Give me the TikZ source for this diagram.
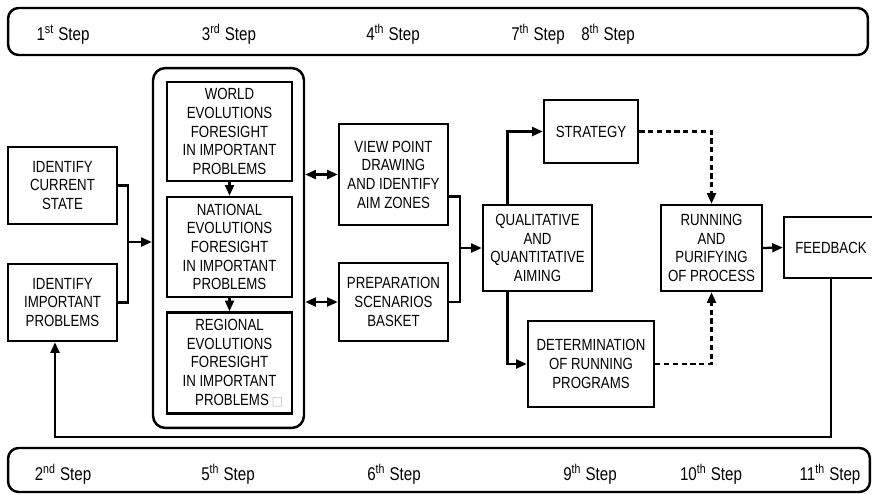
\documentclass[tikz,border=0pt]{standalone}
\usepackage{fontspec}
\setmainfont{Liberation Sans}[FakeStretch=0.82]
\newfontfamily\symfont{DejaVu Sans}
\usetikzlibrary{calc,positioning,arrows.meta}
\tikzstyle{box}   = [rectangle, draw, line width=1.4pt, align=center,
                     inner sep=1pt, font=\fontsize{9.2}{10.6}\selectfont]
\tikzstyle{group} = [rectangle, draw, line width=1.4pt, rounded corners=7pt]
\tikzstyle{band}  = [rectangle, draw, line width=1.4pt, rounded corners=6pt]
\tikzstyle{lbl}   = [anchor=base, font=\fontsize{10.5}{12}\selectfont]
\tikzstyle{line}  = [draw, line width=1.3pt]
\tikzstyle{ptr}   = [line, -{Triangle[length=6pt,width=5pt]}]
\tikzstyle{biptr} = [line, {Triangle[length=6pt,width=5pt]}-{Triangle[length=6pt,width=5pt]}]
\tikzstyle{dptr}  = [line, dash pattern=on 3pt off 2pt, -{Triangle[length=6pt,width=5pt]}]
\newcommand{\stp}[2]{#1\textsuperscript{#2} Step}

\begin{document}
\begin{tikzpicture}[x=0.02cm, y=-0.02cm]
	\useasboundingbox (0,0) rectangle (872,494);
	% step bands
	\node[band, minimum width=17.2cm, minimum height=0.94cm] (topband) at (438,31.5) {};
	\node[band, minimum width=17.24cm, minimum height=0.88cm] (botband) at (439,470) {};
	\node[lbl] (s1) at (63,40) {\stp{1}{st}};
	\node[lbl] (s3) at (229,40) {\stp{3}{rd}};
	\node[lbl] (s4) at (393,40) {\stp{4}{th}};
	\node[lbl] (s7) at (538,40) {\stp{7}{th}};
	\node[lbl] (s8) at (608,40) {\stp{8}{th}};
	\node[lbl] (s2) at (63,480) {\stp{2}{nd}};
	\node[lbl] (s5) at (228,480) {\stp{5}{th}};
	\node[lbl] (s6) at (394,480) {\stp{6}{th}};
	\node[lbl] (s9) at (590,480) {\stp{9}{th}};
	\node[lbl] (s10) at (711,480) {\stp{10}{th}};
	\node[lbl] (s11) at (830,480) {\stp{11}{th}};

	% boxes
	\node[box, minimum width=2.18cm, minimum height=1.54cm] (cur) at (62.5,185.5) {IDENTIFY\\CURRENT\\STATE};
	\node[box, minimum width=2.18cm, minimum height=1.54cm] (imp) at (62.5,302.5) {IDENTIFY\\IMPORTANT\\PROBLEMS};
	\node[group, minimum width=3.02cm, minimum height=7.2cm] (grp) at (228.5,248) {};
	\node[box, minimum width=2.5cm, minimum height=1.98cm] (world) at (229.5,131.5) {WORLD\\EVOLUTIONS\\FORESIGHT\\IN IMPORTANT\\PROBLEMS};
	\node[box, minimum width=2.5cm, minimum height=2.0cm] (nat) at (229.5,247) {NATIONAL\\EVOLUTIONS\\FORESIGHT\\IN IMPORTANT\\PROBLEMS};
	\node[box, minimum width=2.5cm, minimum height=2.02cm] (reg) at (229.5,363) {REGIONAL\\EVOLUTIONS\\FORESIGHT\\IN IMPORTANT\\\hspace*{1.2em}PROBLEMS\,{\symfont\fontsize{7}{8}\selectfont\color{gray!50}□}};
	\node[box, minimum width=2.18cm, minimum height=2.02cm] (view) at (393.5,174.5) {VIEW POINT\\DRAWING\\AND IDENTIFY\\AIM ZONES};
	\node[box, minimum width=2.18cm, minimum height=1.56cm] (prep) at (393.5,302) {PREPARATION\\SCENARIOS\\BASKET};
	\node[box, minimum width=2.18cm, minimum height=1.72cm] (qual) at (537.5,248) {QUALITATIVE\\AND\\QUANTITATIVE\\AIMING};
	\node[box, minimum width=1.88cm, minimum height=1.26cm] (strat) at (591,131.5) {STRATEGY};
	\node[box, minimum width=2.52cm, minimum height=1.72cm] (det) at (591,364) {DETERMINATION\\OF RUNNING\\PROGRAMS};
	\node[box, minimum width=2.02cm, minimum height=1.72cm] (run) at (711.5,248) {RUNNING\\AND\\PURIFYING\\OF PROCESS};
	\node[box, minimum width=1.88cm, minimum height=1.22cm] (fb) at (831,247.5) {FEEDBACK};

	% connectors
	\coordinate (j1) at (128,242);
	\draw[line] (cur.east) -| (j1) |- (imp.east);
	\draw[ptr] (j1) -- (j1 -| grp.west);
	\draw[ptr] (world) -- (nat);
	\draw[ptr] (nat) -- (reg);
	\draw[biptr] (view.west -| grp.east) -- (view.west);
	\draw[biptr] (prep.west -| grp.east) -- (prep.west);
	\coordinate (j2) at (460,248);
	\draw[line] ($(view.east)+(0,22)$) -| (j2) |- (prep.east);
	\draw[ptr] (j2) -- (qual.west);
	\draw[ptr] ($(qual.north)+(-30,0)$) |- (strat.west);
	\draw[ptr] ($(qual.south)+(-30,0)$) |- (det.west);
	\draw[dptr] (strat.east) -| (run.north);
	\draw[dptr] (det.east) -| (run.south);
	\draw[ptr] (run.east) -- (fb.west);
	\coordinate (fbk) at (55,437);
	\draw[ptr] (fb.south) |- (fbk) -- (fbk |- imp.south);
\end{tikzpicture}
\end{document}
